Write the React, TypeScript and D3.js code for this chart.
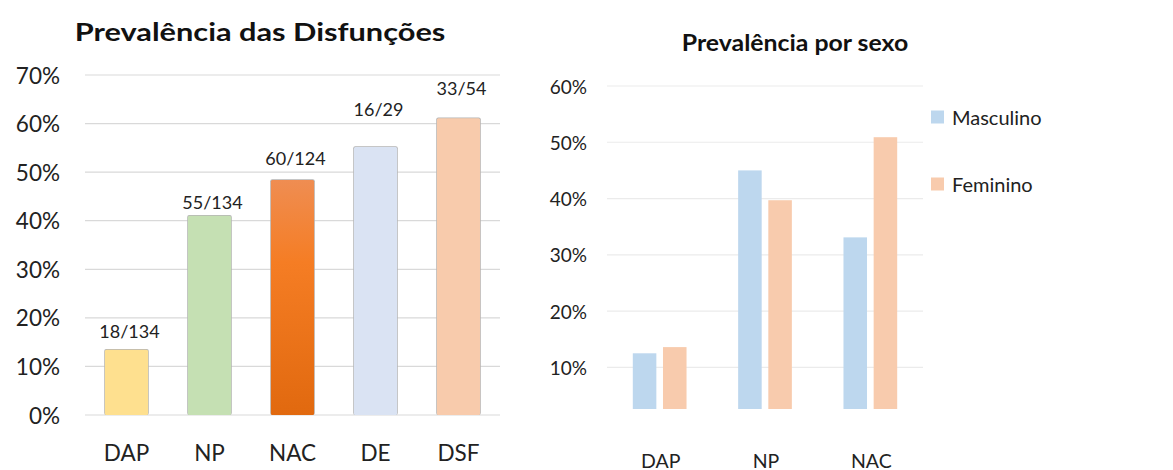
import React from "react";
import * as d3 from "d3";

// Overall prevalence of each disorder (affected / examined)
const disorders = ["DAP", "NP", "NAC", "DE", "DSF"];
const affected = [18, 55, 60, 16, 33];
const examined = [134, 134, 124, 29, 54];
const overallTicks = [0, 0.1, 0.2, 0.3, 0.4, 0.5, 0.6, 0.7];

// Prevalence by sex
const sexCategories = ["DAP", "NP", "NAC"];
const sexSeries = ["Masculino", "Feminino"];
const masculino = [0.125, 0.45, 0.331];
const feminino = [0.136, 0.397, 0.509];
const sexTicks = [0.1, 0.2, 0.3, 0.4, 0.5, 0.6];

// Styling
const FONT = "Lato, 'Open Sans', sans-serif";
const barFills = ["#fee08f", "#c5e0b3", "url(#nacGrad)", "#dae3f3", "#f8cbac"];
const sexFills = ["#bdd7ee", "#f8cbad"];
// vertical gap between each count label and the top of its bar
const labelLift = [19, 14, 22, 38, 30];

export default function App() {
  const pct = d3.format(".0%");

  // ---- left panel ----
  const xL = d3.scaleBand<string>().domain(disorders).range([85, 500]).paddingInner(0.48).paddingOuter(0.24);
  const yL = d3.scaleLinear().domain([0, 0.7]).range([415, 75]);
  const rates = affected.map((a, i) => a / examined[i]);

  // ---- right panel ----
  const xR = d3.scaleBand<string>().domain(sexCategories).range([607, 923]).paddingInner(0.49).paddingOuter(0.245);
  const xSub = d3.scaleBand<string>().domain(sexSeries).range([0, xR.bandwidth()]).paddingInner(0.22);
  const yR = d3.scaleLinear().domain([0.026, 0.6]).range([409, 86]);
  const sexValues = [masculino, feminino];

  return (
    <svg
      width={1173}
      height={470}
      style={{ position: "absolute", left: 0, top: 0, background: "#fff" }}
      fontFamily={FONT}
    >
      <defs>
        <linearGradient id="nacGrad" x1="0" y1="0" x2="0" y2="1">
          <stop offset="0%" stopColor="#ef8d52" />
          <stop offset="35%" stopColor="#f57d24" />
          <stop offset="100%" stopColor="#e1690f" />
        </linearGradient>
        <filter id="soft" x="-10%" y="-10%" width="120%" height="120%">
          <feGaussianBlur stdDeviation="0.7" />
        </filter>
      </defs>

      {/* Left panel: Prevalência das Disfunções */}
      <text
        transform="translate(260,31) scale(1.23,1)"
        textAnchor="middle"
        dominantBaseline="central"
        fontSize={25}
        fontWeight={700}
        fill="#111"
      >
        Prevalência das Disfunções
      </text>
      {overallTicks.map((t) => (
        <g key={"gl" + t}>
          <line x1={85} x2={500} y1={yL(t)} y2={yL(t)} stroke="#d9d9d9" strokeWidth={1.2} />
          <text x={60} y={yL(t)} textAnchor="end" dominantBaseline="central" fontSize={22.5} fill="#222">
            {pct(t)}
          </text>
        </g>
      ))}
      {disorders.map((d, i) => {
        const x = xL(d)!;
        const w = xL.bandwidth();
        const top = yL(rates[i]);
        return (
          <g key={d}>
            <rect x={x - 0.7} y={top - 0.7} width={w + 1.4} height={yL(0) - top + 0.7} rx={2} fill="#b4b4b4" filter="url(#soft)" />
            <rect x={x} y={top} width={w} height={yL(0) - top} rx={1.5} fill={barFills[i]} />
            <text
              x={x + w / 2 + 3}
              y={top - labelLift[i]}
              textAnchor="middle"
              dominantBaseline="central"
              fontSize={18}
              fill="#222"
            >
              {affected[i]}/{examined[i]}
            </text>
            <text x={x + w / 2} y={452} textAnchor="middle" dominantBaseline="central" fontSize={22.5} fill="#222">
              {d}
            </text>
          </g>
        );
      })}

      {/* Right panel: Prevalência por sexo */}
      <text
        transform="translate(795,42) scale(1.08,1)"
        textAnchor="middle"
        dominantBaseline="central"
        fontSize={23}
        fontWeight={700}
        fill="#111"
      >
        Prevalência por sexo
      </text>
      {sexTicks.map((t) => (
        <g key={"gr" + t}>
          <line x1={607} x2={923} y1={yR(t)} y2={yR(t)} stroke="#ebebeb" strokeWidth={1.2} />
          <text x={587} y={yR(t)} textAnchor="end" dominantBaseline="central" fontSize={19} fill="#222">
            {pct(t)}
          </text>
        </g>
      ))}
      {sexCategories.map((c, ci) => (
        <g key={c} transform={`translate(${xR(c)},0)`}>
          {sexSeries.map((s, si) => {
            const v = sexValues[si][ci];
            return (
              <rect
                key={s}
                x={xSub(s)!}
                y={yR(v)}
                width={xSub.bandwidth()}
                height={yR.range()[0] - yR(v)}
                fill={sexFills[si]}
              />
            );
          })}
          <text x={xR.bandwidth() / 2 + 1} y={460} textAnchor="middle" dominantBaseline="central" fontSize={19.5} fill="#222">
            {c}
          </text>
        </g>
      ))}
      {sexSeries.map((s, si) => {
        const cy = 117 + si * 67;
        return (
          <g key={"lg" + s}>
            <rect x={931} y={cy - 6.5} width={13} height={13} fill={sexFills[si]} />
            <text x={952} y={cy} dominantBaseline="central" fontSize={20} fill="#222">
              {s}
            </text>
          </g>
        );
      })}
    </svg>
  );
}
